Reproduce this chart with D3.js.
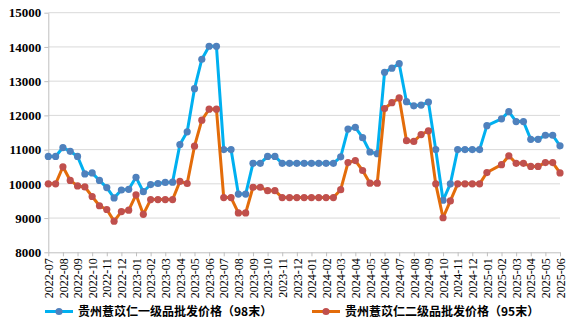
<!DOCTYPE html>
<html>
<head>
<meta charset="utf-8">
<script src="https://cdn.jsdelivr.net/npm/d3@7/dist/d3.min.js"></script>
<style>
  html, body { margin: 0; padding: 0; background: #fff; }
  svg { display: block; }
</style>
</head>
<body>
<svg id="chart" width="582" height="329"></svg>
<script>
// Month labels for the x axis (one tick per month, two quotes per month)
const months = [
  "2022-07","2022-08","2022-09","2022-10","2022-11","2022-12",
  "2023-01","2023-02","2023-03","2023-04","2023-05","2023-06",
  "2023-07","2023-08","2023-09","2023-10","2023-11","2023-12",
  "2024-01","2024-02","2024-03","2024-04","2024-05","2024-06",
  "2024-07","2024-08","2024-09","2024-10","2024-11","2024-12",
  "2025-01","2025-02","2025-03","2025-04","2025-05","2025-06"
];

// Semi-monthly wholesale prices; null = no quote for that half-month
const grade1Prices = [
  10800, 10800, 11060, 10950, 10800, 10290, 10320, 10100, 9890, 9590,
  9820, 9840, 10190, 9770, 9980, 10010, 10040, 10050, 11150, 11520,
  12780, 13640, 14020, 14020, 11000, 11000, 9700, 9700, 10600, 10600,
  10800, 10800, 10600, 10600, 10600, 10600, 10600, 10600, 10600, 10600,
  10790, 11600, 11650, 11350, 10930, 10880, 13260, 13380, 13510, 12400,
  12280, 12300, 12390, 11000, 9520, 10000, 11000, 11000, 11000, 11000,
  11700, null, 11900, 12110, 11820, 11820, 11300, 11300, 11420, 11420,
  11110
];
const grade2Prices = [
  10000, 10000, 10500, 10100, 9940, 9910, 9630, 9360, 9250, 8910,
  9190, 9230, 9680, 9110, 9540, 9540, 9540, 9540, 10070, 10010,
  11100, 11860, 12180, 12180, 9600, 9600, 9150, 9150, 9900, 9900,
  9800, 9800, 9600, 9600, 9600, 9600, 9600, 9600, 9600, 9600,
  9830, 10620, 10680, 10390, 10020, 10020, 12200, 12370, 12510, 11260,
  11240, 11440, 11550, 10000, 9010, 9500, 10000, 10000, 10000, 10000,
  10330, null, 10560, 10820, 10600, 10600, 10510, 10510, 10620, 10620,
  10320
];

const yTicks = [8000, 9000, 10000, 11000, 12000, 13000, 14000, 15000];
const seriesNames = ["贵州薏苡仁一级品批发价格（98末）", "贵州薏苡仁二级品批发价格（95末）"];
const lineColors = ["#00B0F0", "#E36C0A"];
const markerColors = ["#4F81BD", "#C0504D"];

const svg = d3.select("#chart");
const plotLeft = 48.3, plotRight = 560, plotTop = 12.7, plotBottom = 252.3;

const x = d3.scaleLinear().domain([0, grade1Prices.length - 1]).range([plotLeft, plotRight]);
const y = d3.scaleLinear().domain([8000, 15000]).range([plotBottom, plotTop]);

// Horizontal gridlines
svg.append("g")
  .selectAll("line")
  .data(yTicks.filter(v => v !== 8000))
  .join("line")
  .attr("x1", plotLeft).attr("x2", plotRight)
  .attr("y1", d => y(d)).attr("y2", d => y(d))
  .attr("stroke", "#D9D9D9").attr("stroke-width", 1);

// Y axis
const yAxis = svg.append("g")
  .attr("transform", `translate(${plotLeft},0)`)
  .call(d3.axisLeft(y).tickValues(yTicks).tickSize(4).tickSizeOuter(0).tickPadding(3).tickFormat(d3.format("d")));
yAxis.select(".domain").attr("stroke", "#BFBFBF");
yAxis.selectAll(".tick line").attr("stroke", "#BFBFBF");
yAxis.selectAll("text")
  .attr("font-family", "'Liberation Serif', 'Times New Roman', serif")
  .attr("font-weight", "bold")
  .attr("font-size", 13)
  .attr("fill", "#000");

// X axis: one tick per month (every other data point)
const monthIdx = months.map((m, i) => i * 2);
const xAxis = svg.append("g")
  .attr("transform", `translate(0,${plotBottom})`)
  .call(d3.axisBottom(x).tickValues(monthIdx).tickSize(4).tickSizeOuter(0)
    .tickFormat(d => months[d / 2]));
xAxis.select(".domain").attr("stroke", "#BFBFBF");
xAxis.selectAll(".tick line").attr("stroke", "#BFBFBF");
xAxis.selectAll("text")
  .attr("font-family", "'Liberation Serif', 'Times New Roman', serif")
  .attr("font-size", 12)
  .attr("fill", "#000")
  .attr("text-anchor", "end")
  .attr("transform", "rotate(-90)")
  .attr("x", -6)
  .attr("y", 0)
  .attr("dy", "0.35em");

// Series lines and markers
[grade1Prices, grade2Prices].forEach((vals, s) => {
  const pts = vals.map((v, i) => ({ i, v })).filter(d => d.v != null);
  const line = d3.line().x(d => x(d.i)).y(d => y(d.v));
  svg.append("path")
    .datum(pts)
    .attr("d", line)
    .attr("fill", "none")
    .attr("stroke", lineColors[s])
    .attr("stroke-width", 3)
    .attr("stroke-linejoin", "round");
  svg.append("g")
    .selectAll("circle")
    .data(pts)
    .join("circle")
    .attr("cx", d => x(d.i))
    .attr("cy", d => y(d.v))
    .attr("r", 3.6)
    .attr("fill", markerColors[s]);
});

// Legend
const legendY = 311.5;
const legendX = [45, 312];
seriesNames.forEach((name, s) => {
  const g = svg.append("g").attr("transform", `translate(${legendX[s]},${legendY})`);
  g.append("line").attr("x1", 0).attr("x2", 28).attr("y1", 0).attr("y2", 0)
    .attr("stroke", lineColors[s]).attr("stroke-width", 3);
  g.append("circle").attr("cx", 14).attr("cy", 0).attr("r", 3.6).attr("fill", markerColors[s]);
  g.append("text")
    .attr("x", 33).attr("y", 0).attr("dy", "0.36em")
    .attr("font-family", "'Noto Sans CJK SC', sans-serif")
    .attr("font-weight", "bold")
    .attr("font-size", 12)
    .attr("fill", "#000")
    .text(name);
});
</script>
</body>
</html>
